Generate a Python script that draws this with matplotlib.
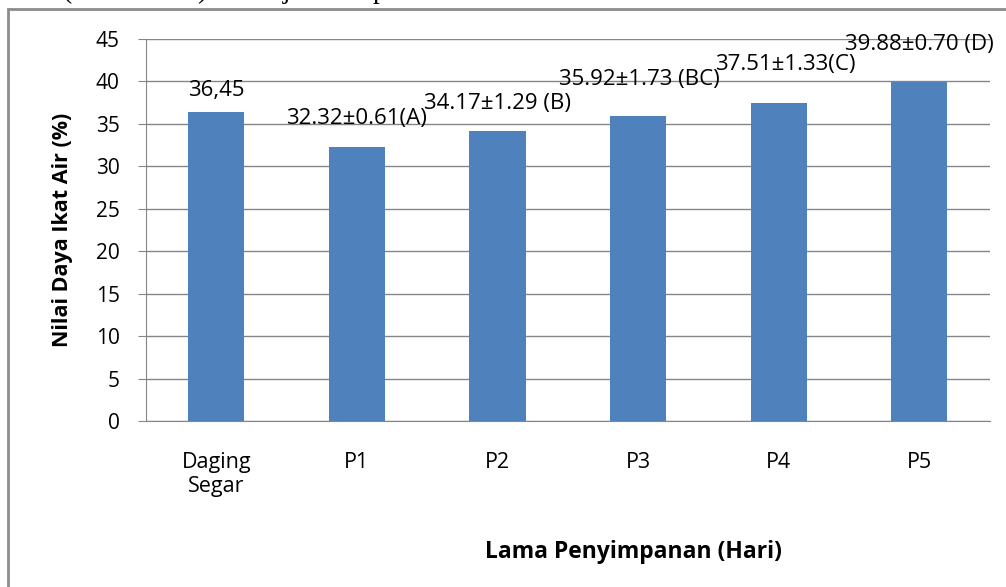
import matplotlib.pyplot as plt
from matplotlib.patches import Rectangle

categories = ['Daging\nSegar', 'P1', 'P2', 'P3', 'P4', 'P5']
values = [36.45, 32.32, 34.17, 35.92, 37.51, 39.88]
bar_labels = ['36,45', '32.32±0.61(A)', '34.17±1.29 (B)', '35.92±1.73 (BC)',
              '37.51±1.33(C)', '39.88±0.70 (D)']

# label offsets in points (dx, dy) from the top of each bar
label_offsets = [(0, 15.5), (0, 20.5), (0, 19.5), (1, 26.5), (5, 27.5), (0, 27.5)]

plt.rcParams['font.family'] = ['Open Sans', 'DejaVu Sans']

fig = plt.figure(figsize=(10.06, 5.87), dpi=100)
ax = fig.add_axes([0.1451, 0.2828, 0.8386, 0.6508])

x = range(len(categories))
ax.bar(x, values, width=0.4, color='#4F81BD', zorder=2)

for i, (v, lab) in enumerate(zip(values, bar_labels)):
    ax.annotate(lab, (i, v), xytext=label_offsets[i], textcoords='offset points',
                ha='center', va='center', fontsize=16, color='black', zorder=3)

ax.set_xlim(-0.5, len(categories) - 0.5)
ax.set_ylim(0, 45)
ax.set_yticks(range(0, 46, 5))
ax.set_xticks(list(x))
ax.set_xticklabels(categories, fontsize=15.5, linespacing=1.2)
ax.tick_params(axis='y', labelsize=15, length=6, color='#868686', pad=13)
ax.tick_params(axis='x', length=0, pad=22)
ax.grid(axis='y', color='#868686', linewidth=1, zorder=1)

for s in ['top', 'right']:
    ax.spines[s].set_visible(False)
ax.spines['left'].set_color('#868686')
ax.spines['bottom'].set_color('#868686')

ax.set_ylabel('Nilai Daya Ikat Air (%)', fontsize=15.5, fontweight='bold')
ax.yaxis.set_label_coords(-0.087, 0.5)
ax.set_xlabel('Lama Penyimpanan (Hari)', fontsize=16.5, fontweight='bold')
ax.xaxis.set_label_coords(0.578, -0.312)

# outer chart frame
fig.patches.append(Rectangle((8 / 1006, -0.1), 1.2, 1 - 9 / 587 + 0.1,
                             transform=fig.transFigure, fill=False,
                             edgecolor='#8c8c8c', linewidth=2))

# bottom of the document text line cut off above the chart
for ch, px in [('(', 63), (')', 197), ('j', 283), ('p', 373)]:
    fig.text(px / 1006, 1 + 2 / 587, ch, family='Liberation Serif', fontsize=20,
             va='baseline', ha='left')

fig.savefig('out.png', dpi=100)
